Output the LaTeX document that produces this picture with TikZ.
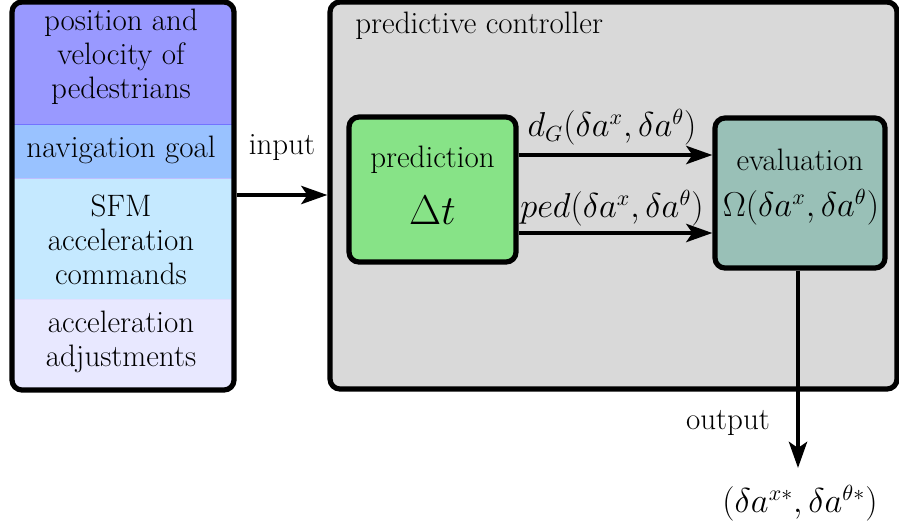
\documentclass[tikz,border=0pt]{standalone}
\usetikzlibrary{arrows.meta,positioning}
\definecolor{cpos}{RGB}{153,153,255}
\definecolor{cnav}{RGB}{153,194,255}
\definecolor{csfm}{RGB}{197,233,255}
\definecolor{cadj}{RGB}{232,232,255}
\definecolor{cgray}{RGB}{217,217,217}
\definecolor{cpred}{RGB}{135,227,135}
\definecolor{ceval}{RGB}{153,192,183}
\tikzset{
  txt/.style={font=\fontsize{15.5}{17}\selectfont, align=center, inner sep=0pt},
  mth/.style={font=\fontsize{16.2}{17}\selectfont, align=center, inner sep=0pt},
  sec/.style={rectangle, inner sep=0pt, minimum width=111pt},
  blk/.style={draw=black, line width=2.6pt, rounded corners=5pt, inner sep=0pt},
  conn/.style={line width=2.3pt, -{Stealth[length=13pt,width=9pt,inset=3pt]}},
}
\begin{document}
\begin{tikzpicture}[x=0.5pt,y=-0.5pt]
\useasboundingbox (0,0) rectangle (899,526);
% left input stack
\begin{scope}
  \clip[rounded corners=5pt] (12,2) rectangle (234,390);
  \node[sec, fill=cpos, minimum height=61pt, anchor=north west] (s1) at (12,2) {};
  \node[sec, fill=cnav, minimum height=27pt, anchor=north west] (s2) at (12,124) {};
  \node[sec, fill=csfm, minimum height=60.5pt, anchor=north west] (s3) at (12,178) {};
  \node[sec, fill=cadj, minimum height=45.5pt, anchor=north west] (s4) at (12,299) {};
\end{scope}
\draw[blue!55, line width=0.5pt] (s2.north west) -- (s2.north east);
\draw[blue!25, line width=0.5pt] (s3.north west) -- (s3.north east);
\draw[blue!12, line width=0.5pt] (s4.north west) -- (s4.north east);
\node[blk, minimum width=111pt, minimum height=194pt] (inbox) at (123,196) {};
\node[txt] (t1) at (121,57) {position and\\velocity of\\pedestrians};
\node[txt] (t2) at (121,150) {navigation goal};
\node[txt] (t3) at (121,240) {SFM\\acceleration\\commands};
\node[txt] (t4) at (121,342) {acceleration\\adjustments};
% controller
\node[blk, fill=cgray, minimum width=283.5pt, minimum height=193.5pt] (ctrl) at (613.5,195.5) {};
\node[txt, anchor=west] (ctrltitle) at (355,26) {predictive controller};
% input
\draw[conn] (inbox.east |- 0,195) -- (ctrl.west |- 0,195) node[txt, midway, above=16pt] (inlabel) {input};
% prediction
\node[blk, fill=cpred, minimum width=83.5pt, minimum height=72.5pt] (pred) at (432.5,189.5) {};
\node[txt] (predt) at (432.5,160) {prediction};
\node[inner sep=0pt, font=\fontsize{21}{21}\selectfont] (dt) at (432.5,210) {$\Delta t$};
% evaluation
\node[blk, fill=ceval, minimum width=85pt, minimum height=75pt] (eval) at (800,193) {};
\node[txt] (evalt) at (800,160) {evaluation};
\node[mth] (evalm) at (801,207) {$\Omega(\delta a^x,\delta a^\theta)$};
% connectors
\draw[conn] ([yshift=17.25pt]pred.east) -- ([yshift=17.25pt]pred.east -| eval.west);
\draw[conn] ([yshift=-21.75pt]pred.east) -- ([yshift=-21.75pt]pred.east -| eval.west);
\node[mth] (dg) at (612,127) {$d_G(\delta a^x,\delta a^\theta)$};
\node[mth] (ped) at (612,208) {$ped(\delta a^x,\delta a^\theta)$};
% output
\coordinate (outtip) at (798,468);
\draw[conn] (eval.south -| outtip) -- (outtip);
\node[txt] (outlabel) at (728,423) {output};
\node[mth] (outval) at (800,503) {$(\delta a^{x*},\delta a^{\theta*})$};
\end{tikzpicture}
\end{document}
